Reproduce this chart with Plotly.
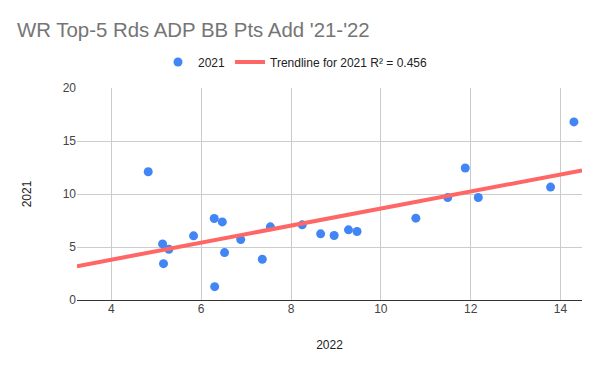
import numpy as np
import plotly.graph_objects as go

x_2022 = [4.82, 5.14, 5.16, 5.28, 5.83, 6.29, 6.47, 6.52, 6.30, 6.88, 7.36, 7.54,
          8.25, 8.66, 8.96, 9.28, 9.47, 10.78, 11.49, 11.88, 12.17, 13.78, 14.30]
y_2021 = [12.1, 5.29, 3.43, 4.79, 6.05, 7.69, 7.37, 4.47, 1.26, 5.70, 3.84, 6.90,
          7.09, 6.24, 6.08, 6.62, 6.46, 7.72, 9.67, 12.45, 9.67, 10.65, 16.8]
x_range = [3.234, 14.48]
y_range = [0, 20]
x_ticks = [4, 6, 8, 10, 12, 14]
y_ticks = [0, 5, 10, 15, 20]
title = "WR Top-5 Rds ADP BB Pts Add '21-'22"
trend_name = "Trendline for 2021 R² = 0.456"

slope, intercept = np.polyfit(x_2022, y_2021, 1)
tx = np.array(x_range)
ty = slope * tx + intercept

L, R, T, B = 77, 18, 88, 71
W, H = 600, 371
pw, ph = W - L - R, H - T - B
FONT = "Arial, 'Liberation Sans', sans-serif"

fig = go.Figure()
fig.add_trace(go.Scatter(
    x=x_2022, y=y_2021, mode="markers", name="2021",
    marker=dict(color="#4285f4", size=9, line=dict(width=0)),
))
fig.add_trace(go.Scatter(
    x=tx, y=ty, mode="lines", name=trend_name,
    line=dict(color="#ff6666", width=4),
))

fig.update_layout(
    width=W, height=H,
    paper_bgcolor="white", plot_bgcolor="white",
    font=dict(family=FONT, size=12, color="#444444"),
    margin=dict(l=L, r=R, t=T, b=B, autoexpand=False),
    title=dict(text=title, x=17 / W, xanchor="left", y=1 - 30 / H, yanchor="middle",
               font=dict(family=FONT, size=20.4, color="#757575")),
    legend=dict(orientation="h", x=(295 - L) / pw, xanchor="center", y=1 + (T - 62) / ph,
                yanchor="middle", font=dict(size=12, color="#222222"),
                bgcolor="rgba(0,0,0,0)", itemwidth=30),
    showlegend=True,
)
fig.update_xaxes(
    range=x_range, tickvals=x_ticks, showgrid=True, gridcolor="#cccccc", gridwidth=1,
    zeroline=False, showline=False, ticks="", tickfont=dict(color="#444444"),
    title=dict(text="2022", font=dict(size=12, color="#222222"), standoff=25),
)
fig.update_yaxes(
    range=y_range, tickvals=y_ticks, showgrid=True, gridcolor="#cccccc", gridwidth=1,
    zeroline=True, zerolinecolor="#333333", zerolinewidth=1, showline=False, ticks="",
    tickfont=dict(color="#444444"),
    title=dict(text="2021", font=dict(size=12, color="#222222"), standoff=28),
)

fig.write_html("out.html", config={"displayModeBar": False},
               post_script="document.body.style.margin='0';")
